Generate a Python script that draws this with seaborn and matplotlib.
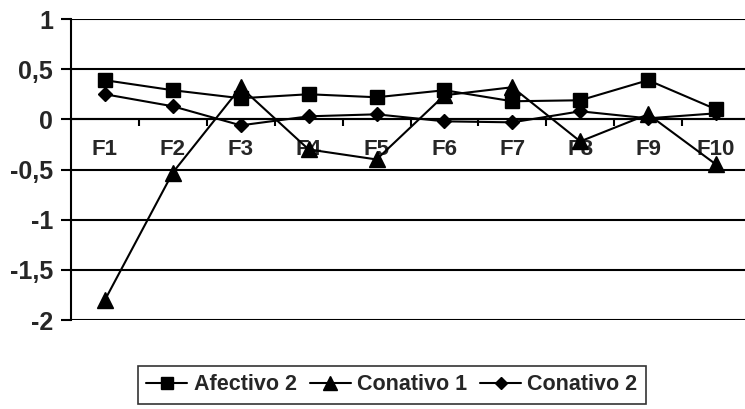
import matplotlib
matplotlib.use("Agg")
import matplotlib.pyplot as plt
import seaborn as sns
import pandas as pd
import numpy as np
from matplotlib.lines import Line2D

categories = ["F1", "F2", "F3", "F4", "F5", "F6", "F7", "F8", "F9", "F10"]
afectivo_2 = [0.39, 0.29, 0.21, 0.25, 0.22, 0.29, 0.18, 0.19, 0.39, 0.10]
conativo_1 = [-1.80, -0.53, 0.32, -0.30, -0.40, 0.24, 0.32, -0.22, 0.05, -0.45]
conativo_2 = [0.25, 0.13, -0.06, 0.03, 0.05, -0.02, -0.03, 0.08, 0.01, 0.06]
series_names = ["Afectivo 2", "Conativo 1", "Conativo 2"]
y_ticks = [1, 0.5, 0, -0.5, -1, -1.5, -2]
y_tick_labels = ["1", "0,5", "0", "-0,5", "-1", "-1,5", "-2"]

sns.set_theme(style="white")
plt.rcParams["font.family"] = ["Liberation Sans", "DejaVu Sans"]
plt.rcParams["font.weight"] = "bold"

rows = []
for name, vals in zip(series_names, [afectivo_2, conativo_1, conativo_2]):
    for i, v in enumerate(vals):
        rows.append({"x": i, "cat": categories[i], "value": v, "serie": name})
df = pd.DataFrame(rows)

W, H = 745, 409
fig = plt.figure(figsize=(W / 100, H / 100), dpi=100)
left, right, top, bottom = 71, 750, 19, 320
ax = fig.add_axes([left / W, 1 - bottom / H, (right - left) / W, (bottom - top) / H])

for yv in y_ticks:
    ax.axhline(yv, color="black", lw=1.5, zorder=1)

markers = {"Afectivo 2": "s", "Conativo 1": "^", "Conativo 2": "D"}
msizes = {"Afectivo 2": 10, "Conativo 1": 12, "Conativo 2": 7.5}
for name in series_names:
    sub = df[df["serie"] == name]
    sns.lineplot(data=sub, x="x", y="value", ax=ax, color="black", lw=1.5,
                 marker=markers[name], markersize=msizes[name], markeredgewidth=1,
                 markeredgecolor="black", markerfacecolor="black", zorder=3,
                 legend=False)

ax.set_xlim(-0.5, 9.5)
ax.set_ylim(-2, 1)
ax.set_xlabel("")
ax.set_ylabel("")

for s in ["top", "right"]:
    ax.spines[s].set_visible(False)
ax.spines["left"].set_color("black")
ax.spines["left"].set_linewidth(1.5)
ax.spines["bottom"].set_position(("data", 0))
ax.spines["bottom"].set_color("black")
ax.spines["bottom"].set_linewidth(1.5)

ax.set_yticks(y_ticks)
ax.set_yticklabels(y_tick_labels, fontsize=18, fontweight="bold")
ax.tick_params(axis="y", direction="out", length=7, width=1.5, color="black", pad=6, left=True)

ax.set_xticks(range(len(categories)))
ax.set_xticklabels(categories, fontsize=16, fontweight="bold")
ax.set_xticks(np.arange(0.5, 9.5, 1.0), minor=True)
ax.tick_params(axis="x", which="major", length=0, pad=14, bottom=True)
ax.tick_params(axis="x", which="minor", direction="out", length=5, width=1.5, color="black", bottom=True)
ax.grid(False)

handles = [Line2D([0], [0], color="black", lw=1.5, marker=markers[n], markersize=msizes[n] * 0.8,
                  markerfacecolor="black", markeredgecolor="black") for n in series_names]
leg = fig.legend(handles, series_names, loc="center", bbox_to_anchor=(392 / W, 1 - 385 / H),
                 ncol=3, frameon=True, fancybox=False, edgecolor="black",
                 prop={"size": 15.5, "weight": "bold"}, handlelength=1.9, columnspacing=0.6,
                 handletextpad=0.3, borderpad=0.4, borderaxespad=0)
leg.get_frame().set_linewidth(1.2)

fig.savefig("out.png", dpi=100)
